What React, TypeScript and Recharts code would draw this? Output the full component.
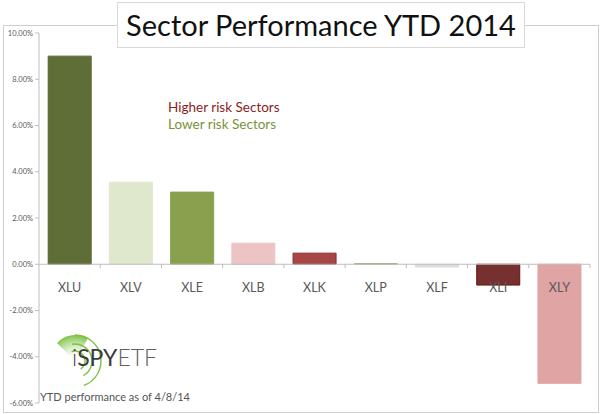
import React from 'react';
import { BarChart, Bar, XAxis, YAxis, Cell, ReferenceLine } from 'recharts';

const categories = ['XLU', 'XLV', 'XLE', 'XLB', 'XLK', 'XLP', 'XLF', 'XLI', 'XLY'];
const values = [9.0, 3.55, 3.12, 0.91, 0.48, 0.03, -0.12, -0.9, -5.15];
const barColors = ['#5e6e36', '#dfe8cd', '#8aa04f', '#ecc4c4', '#a84646', '#a3ae87', '#dcdcdc', '#76302f', '#e0a4a4'];
const barStrokes = ['#566532', '#dfe8cd', '#8aa04f', '#ecc4c4', '#8a2a2a', '#a3ae87', '#dcdcdc', '#6a1010', '#e0a4a4'];
const yTicks = [-6, -4, -2, 0, 2, 4, 6, 8, 10];

const data = categories.map((c, i) => ({ name: c, value: values[i] }));

const CHART_W = 600;
const CHART_H = 414;
const X_AXIS_H = 1;
const MARGIN = { top: 33, right: 10, bottom: 10, left: 3 };
const Y_AXIS_W = 36;
const Y_MIN = -6;
const Y_MAX = 10;

const plotTop = MARGIN.top;
const plotBottom = CHART_H - MARGIN.bottom - X_AXIS_H;
const plotLeft = MARGIN.left + Y_AXIS_W;
const plotRight = CHART_W - MARGIN.right;
const zeroY = plotTop + ((Y_MAX - 0) / (Y_MAX - Y_MIN)) * (plotBottom - plotTop);
const band = (plotRight - plotLeft) / categories.length;

const font = 'Lato, "Open Sans", sans-serif';

const CategoryTick = (props: any) => {
  const { x, payload } = props;
  return (
    <g>
      <line x1={x + band / 2} x2={x + band / 2} y1={zeroY} y2={zeroY + 4} stroke="#bfbfbf" strokeWidth={1} />
      <text x={x} y={zeroY + 28} textAnchor="middle" fontFamily={font} fontSize={12.5} fill="#595959">
        {payload.value}
      </text>
    </g>
  );
};

const arc = (cx: number, cy: number, r: number, a0: number, a1: number) => {
  const rad = (a: number) => (a * Math.PI) / 180;
  const x0 = cx + r * Math.cos(rad(a0));
  const y0 = cy + r * Math.sin(rad(a0));
  const x1 = cx + r * Math.cos(rad(a1));
  const y1 = cy + r * Math.sin(rad(a1));
  const large = Math.abs(a1 - a0) > 180 ? 1 : 0;
  return `M${x0} ${y0} A${r} ${r} 0 ${large} 0 ${x1} ${y1}`;
};

const Logo = () => (
  <svg width={140} height={60} style={{ position: 'absolute', left: 40, top: 330 }}>
    <defs>
      <radialGradient id="wedge" cx="35" cy="31" r="26" gradientUnits="userSpaceOnUse">
        <stop offset="0%" stopColor="#ffffff" stopOpacity={0} />
        <stop offset="100%" stopColor="#7cc142" stopOpacity={1} />
      </radialGradient>
    </defs>
    <path d="M35 31 L17 13 A26 26 0 0 1 48 8 Z" fill="url(#wedge)" />
    <path d={arc(35, 31, 26, 70, -90)} fill="none" stroke="#7cc142" strokeWidth={1.4} />
    <path d={arc(35, 31, 17, 60, -100)} fill="none" stroke="#7cc142" strokeWidth={1.4} />
    <path d={arc(35, 31, 10, 55, -110)} fill="none" stroke="#7cc142" strokeWidth={1.4} />
    <text x={32} y={36} fontFamily={font} fontSize={23} fontWeight={300} fill="#555">
      <tspan fill="#444">i</tspan>
      <tspan fill="#3c3c3c" fontWeight={400}>SPY</tspan>
      <tspan fill="#606060">ETF</tspan>
    </text>
  </svg>
);

export default function App() {
  return (
    <div style={{ position: 'absolute', left: 0, top: 0, width: CHART_W, height: CHART_H, background: '#fff', overflow: 'hidden' }}>
      <div style={{ position: 'absolute', left: 3, top: 25, width: 594, height: 386, border: '1px solid #cfcfcf' }} />
      <div style={{ position: 'absolute', left: 0, top: 0 }}>
        <BarChart width={CHART_W} height={CHART_H} data={data} margin={MARGIN} barCategoryGap="15%">
          <YAxis
            width={Y_AXIS_W}
            domain={[Y_MIN, Y_MAX]}
            ticks={yTicks}
            interval={0}
            allowDataOverflow
            tickFormatter={(v: number) => v.toFixed(2) + '%'}
            tick={{ fontSize: 7.5, fill: '#595959', fontFamily: font }}
            axisLine={{ stroke: '#bfbfbf' }}
            tickLine={{ stroke: '#bfbfbf' }}
            tickSize={4}
          />
          <XAxis
            dataKey="name"
            height={X_AXIS_H}
            axisLine={false}
            tickLine={false}
            interval={0}
            tick={<CategoryTick />}
          />
          <ReferenceLine y={0} stroke="#bfbfbf" strokeWidth={1} />
          <Bar dataKey="value" isAnimationActive={false}>
            {data.map((d, i) => (
              <Cell key={d.name} fill={barColors[i]} stroke={barStrokes[i]} strokeWidth={1} />
            ))}
          </Bar>
        </BarChart>
      </div>
      <div
        style={{
          position: 'absolute', left: 117, top: 2, width: 406, height: 44,
          border: '1px solid #d9d9d9', background: '#fff',
          fontFamily: font, fontSize: 29, color: '#111', textAlign: 'center', lineHeight: '44px',
        }}
      >
        Sector Performance YTD 2014
      </div>
      <div style={{ position: 'absolute', left: 168, top: 98, fontFamily: font, fontSize: 13.5, color: '#8b1c1c', lineHeight: '18px' }}>
        Higher risk Sectors
      </div>
      <div style={{ position: 'absolute', left: 168, top: 115, fontFamily: font, fontSize: 13.5, color: '#77933c', lineHeight: '18px' }}>
        Lower risk Sectors
      </div>
      <Logo />
      <div style={{ position: 'absolute', left: 40, top: 390, fontFamily: font, fontSize: 11, color: '#555', lineHeight: '14px' }}>
        YTD performance as of 4/8/14
      </div>
    </div>
  );
}
